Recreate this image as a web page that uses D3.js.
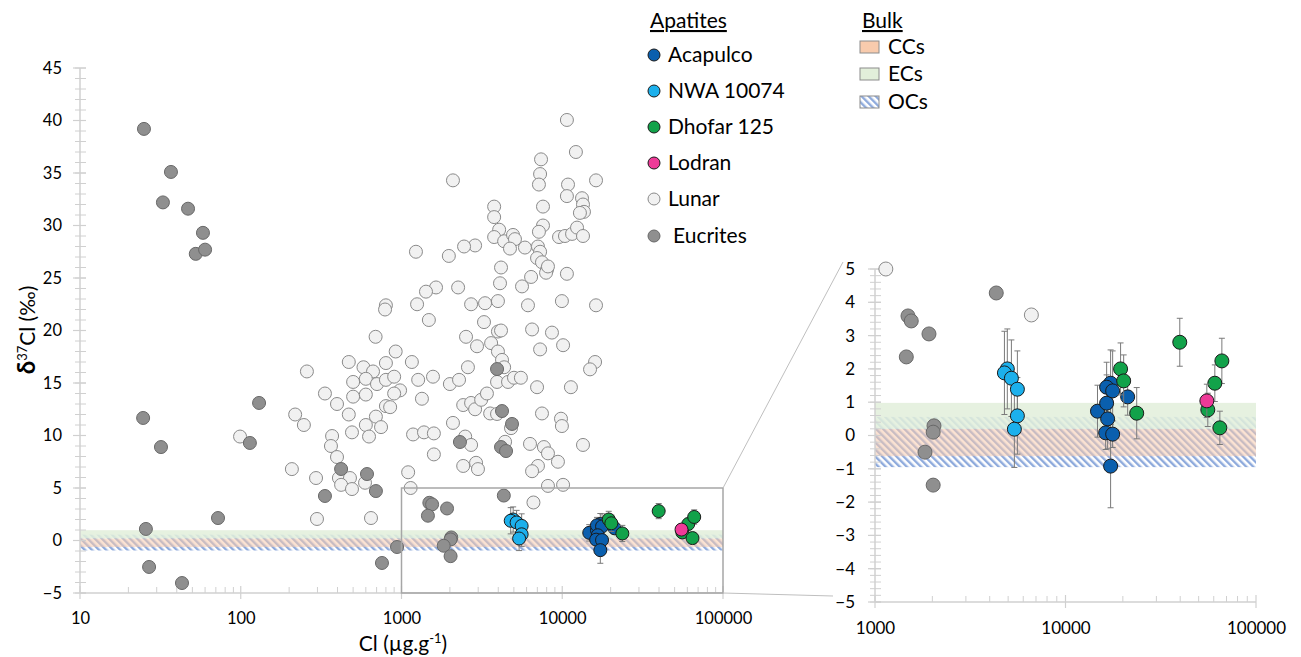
<!DOCTYPE html>
<html>
<head>
  <meta charset="UTF-8">
  <title>d37Cl vs Cl</title>
  <script src="https://cdn.jsdelivr.net/npm/d3@7/dist/d3.min.js"></script>
  <style>
    body { margin:0; background:#fff; }
    text { font-family: Lato, "Open Sans", sans-serif; fill:#000; }
  </style>
</head>
<body>
<svg id="chart" width="1301" height="657"></svg>
<script>
// ---- data: [Cl (ug/g), d37Cl (permil)] ----
const lunar = [
  [10690,40.05],[12160,37.0],[7380,36.3],[7280,34.9],[7160,33.9],[2090,34.3],[10860,33.9],[10690,32.8],
  [16220,34.3],[13270,32.6],[13460,32.0],[13650,31.3],[12880,31.2],[3770,31.8],[3770,30.8],[7590,31.8],
  [7590,30.0],[7160,29.4],[4050,29.6],[3770,28.9],[4350,28.5],[4940,29.1],[5080,28.7],[4730,27.8],
  [5860,27.9],[7060,28.0],[7280,27.5],[6970,26.9],[7480,26.5],[9550,28.9],[10400,29.0],[11510,29.2],
  [12360,29.8],[13460,29.0],[2870,28.1],[2450,28.0],[1230,27.5],[1970,27.1],[4160,26.0],[8040,25.8],
  [7930,25.5],[8150,26.1],[10690,25.4],[6400,25.1],[5620,24.2],[4100,24.5],[1640,24.1],[1420,23.7],
  [2250,24.1],[1250,22.5],[2710,22.5],[3310,22.6],[3980,22.8],[6120,22.4],[9950,22.8],[16220,22.4],
  [800,22.4],[790,22.0],[690,19.4],[920,18.0],[1160,17.0],[470,17.0],[580,16.5],[665,16.1],
  [800,16.9],[258,16.1],[500,15.1],[600,15.4],[704,14.9],[800,15.3],[900,15.6],[980,14.3],
  [900,14.0],[334,14.0],[397,13.0],[500,13.7],[600,13.9],[800,12.8],[850,12.7],[470,12.0],
  [693,11.8],[600,11.0],[746,10.8],[492,10.3],[628,9.9],[218,12.0],[247,11.0],[370,9.95],
  [364,9.0],[397,7.95],[99,9.9],[208,6.8],[294,5.95],[408,5.95],[478,5.95],[421,5.3],
  [492,4.9],[593,5.5],[298,2.05],[646,2.14],[1270,15.3],[1340,13.5],[1180,10.1],[1100,6.5],
  [1140,5.0],[1480,21.0],[3260,20.8],[2520,19.4],[2950,18.5],[3610,18.8],[3980,19.9],[4160,20.0],
  [6490,20.1],[8630,19.8],[10120,18.6],[7280,18.2],[3980,18.0],[4220,17.2],[4350,16.5],[2590,16.5],
  [16000,17.0],[14890,16.3],[1570,15.6],[2000,14.9],[2280,15.3],[3930,15.1],[4600,15.1],[5010,15.5],
  [5530,15.5],[6970,14.6],[11320,14.6],[2420,12.9],[2710,13.1],[2870,12.5],[3130,13.4],[3400,14.0],
  [3560,12.1],[3930,12.05],[7480,12.1],[9820,11.6],[9950,10.9],[2090,11.2],[1380,10.3],[1590,10.2],
  [2490,9.9],[2710,9.1],[4410,9.4],[4800,10.7],[6300,9.2],[7690,8.9],[8150,8.3],[9400,7.5],
  [13460,9.1],[1590,8.2],[2420,7.1],[2910,7.4],[2990,6.8],[7060,7.1],[6490,6.6],[8150,5.2],
  [10120,5.3],[6620,3.62]
];
const eucrites = [
  [25,39.2],[36.8,35.1],[32.8,32.2],[47,31.6],[58.2,29.3],[52.5,27.3],[60,27.7],
  [24.7,11.67],[31.9,8.9],[25.7,1.1],[26.9,-2.52],[43.1,-4.05],[72.2,2.14],[130,13.1],[114,9.29],
  [334,4.24],[421,6.81],[610,6.33],[693,4.71],[938,-0.62],[756,-2.14],
  [3930,16.33],[4220,12.33],[4870,11.1],[2310,9.38],[4160,8.9],[4470,8.52],[4330,4.28],
  [1490,3.59],[1550,3.44],[1920,3.05],[1460,2.36],[2040,0.29],[2020,0.10],[1830,-0.5],[2020,-1.49]
];
// apatites: [Cl, d37Cl, error]
const nwa10074 = [[4950,2.0,1.2],[4780,1.88,1.25],[5200,1.72,1.15],[5590,1.39,1.15],[5590,0.59,1.15],[5390,0.19,1.15]];
const acapulco = [[14720,0.73,0.78],[16440,0.97,0.85],[17250,1.57,1.0],[16440,1.45,0.75],[17680,1.34,1.2],
  [21200,1.16,0.55],[16640,0.5,0.9],[16250,0.08,0.5],[17680,0.04,0.4],[17250,-0.92,1.25]];
const dhofar125 = [[19460,2.0,0.78],[20200,1.64,0.78],[23650,0.67,0.77],[39800,2.8,0.72],
  [60800,1.57,0.55],[66200,2.24,0.68],[55850,0.77,0.5],[64600,0.23,0.5]];
const lodran = [[55200,1.04,0.5]];

// bulk ranges [low, high]
const bandOCs = [-0.95, 0.56];
const bandCCs = [-0.62, 0.2];
const bandECs = [0.2, 0.98];

const yTicksMain = [45,40,35,30,25,20,15,10,5,0,-5];
const xTicksMain = [10,100,1000,10000,100000];
const yTicksInset = [5,4,3,2,1,0,-1,-2,-3,-4,-5];
const xTicksInset = [1000,10000,100000];

const series = [
  {name:"Acapulco", data:acapulco, fill:"#0a5fae", stroke:"#1a1a1a"},
  {name:"NWA 10074", data:nwa10074, fill:"#1cb0ec", stroke:"#1a1a1a"},
  {name:"Dhofar 125", data:dhofar125, fill:"#12a24a", stroke:"#1a1a1a"},
  {name:"Lodran", data:lodran, fill:"#ee3a98", stroke:"#1a1a1a"},
  {name:"Lunar", data:lunar, fill:"#f1f1f1", stroke:"#8a8a8a"},
  {name:"Eucrites", data:eucrites, fill:"#8f8f8f", stroke:"#686868"}
];

const svg = d3.select("#chart");
const axisCol = "#d0d0d0";

// hatch pattern for OCs
const defs = svg.append("defs");
defs.append("pattern").attr("id","hatch").attr("patternUnits","userSpaceOnUse")
  .attr("width",5).attr("height",5).attr("patternTransform","rotate(-45)")
  .append("rect").attr("x",0).attr("y",0).attr("width",2.4).attr("height",5).attr("fill","#8eaadc");

function drawPanel(g, x, y, opt){
  const [x0,x1] = x.range(), [yb,yt] = y.range();
  // bands
  g.append("rect").attr("x",x0).attr("width",x1-x0)
    .attr("y",y(bandOCs[1])).attr("height",y(bandOCs[0])-y(bandOCs[1])).attr("fill","url(#hatch)");
  g.append("rect").attr("x",x0).attr("width",x1-x0)
    .attr("y",y(bandCCs[1])).attr("height",y(bandCCs[0])-y(bandCCs[1])).attr("fill","#f8cbad").attr("opacity",0.55);
  g.append("rect").attr("x",x0).attr("width",x1-x0)
    .attr("y",y(bandECs[1])).attr("height",y(bandECs[0])-y(bandECs[1])).attr("fill","#e2efda").attr("opacity",0.85);

  // axis lines
  g.append("line").attr("x1",x0).attr("x2",x0).attr("y1",yt).attr("y2",yb).attr("stroke",axisCol).attr("stroke-width",1.5);
  g.append("line").attr("x1",x0).attr("x2",x1).attr("y1",yb).attr("y2",yb).attr("stroke",axisCol).attr("stroke-width",1.5);

  // y ticks
  const yd = y.domain();
  const yMinor = d3.range(yd[0], yd[1]+1e-9, opt.yMinorStep);
  g.selectAll(null).data(yMinor).join("line")
    .attr("x1",x0-5).attr("x2",x0+6).attr("y1",d=>y(d)).attr("y2",d=>y(d))
    .attr("stroke",axisCol).attr("stroke-width",1);
  g.selectAll(null).data(opt.yTicks).join("line")
    .attr("x1",x0-7).attr("x2",x0+6).attr("y1",d=>y(d)).attr("y2",d=>y(d))
    .attr("stroke",axisCol).attr("stroke-width",1.2);

  // x ticks
  const xd = x.domain();
  const xMinor = [];
  for (let dec = xd[0]; dec < xd[1]; dec *= 10) for (let k=2;k<10;k++) xMinor.push(dec*k);
  g.selectAll(null).data(xMinor).join("line")
    .attr("x1",d=>x(d)).attr("x2",d=>x(d)).attr("y1",yb-6).attr("y2",yb)
    .attr("stroke",axisCol).attr("stroke-width",1);
  g.selectAll(null).data(opt.xTicks).join("line")
    .attr("x1",d=>x(d)).attr("x2",d=>x(d)).attr("y1",yb-7).attr("y2",yb+6)
    .attr("stroke",axisCol).attr("stroke-width",1.2);

  // tick labels through d3 axes
  const ya = g.append("g").attr("transform",`translate(${x0},0)`)
    .call(d3.axisLeft(y).tickValues(opt.yTicks).tickSize(0).tickPadding(opt.yPad).tickFormat(d3.format("d")));
  const xa = g.append("g").attr("transform",`translate(0,${yb})`)
    .call(d3.axisBottom(x).tickValues(opt.xTicks).tickSize(0).tickPadding(opt.xPad).tickFormat(d3.format("d")));
  [ya,xa].forEach(a => {
    a.select(".domain").remove();
    a.selectAll("text").attr("font-size",opt.fontSize).attr("font-family","Lato, sans-serif").attr("fill","#000");
  });

  // markers
  const inDom = d => d[0] >= xd[0] && d[0] <= xd[1] && d[1] >= yd[0] && d[1] <= yd[1] + 0.05;
  const order = ["Lunar","Eucrites","Acapulco","NWA 10074","Dhofar 125","Lodran"];
  order.forEach(nm => {
    const s = series.find(t => t.name === nm);
    const pts = s.data.filter(inDom);
    if (pts.length && pts[0].length > 2) {
      const eb = g.append("g").attr("stroke","#7a7a7a").attr("stroke-width",1);
      pts.forEach(d => {
        const cx = x(d[0]), ya1 = y(d[1]+d[2]), ya0 = y(d[1]-d[2]);
        eb.append("line").attr("x1",cx).attr("x2",cx).attr("y1",ya1).attr("y2",ya0);
        eb.append("line").attr("x1",cx-opt.cap).attr("x2",cx+opt.cap).attr("y1",ya1).attr("y2",ya1);
        eb.append("line").attr("x1",cx-opt.cap).attr("x2",cx+opt.cap).attr("y1",ya0).attr("y2",ya0);
      });
    }
    g.selectAll(null).data(pts).join("circle")
      .attr("cx",d=>x(d[0])).attr("cy",d=>y(d[1])).attr("r",opt.r)
      .attr("fill",s.fill).attr("stroke",s.stroke).attr("stroke-width",1);
  });
}

// main panel
const x = d3.scaleLog().domain([10,100000]).range([80,723]);
const y = d3.scaleLinear().domain([-5,45]).range([593,68]);
// inset panel
const xi = d3.scaleLog().domain([1000,100000]).range([875,1256]);
const yi = d3.scaleLinear().domain([-5,5]).range([602,269]);

const gMain = svg.append("g");
drawPanel(gMain, x, y, {yTicks:yTicksMain, xTicks:xTicksMain, yMinorStep:1, yPad:18, xPad:19, fontSize:16.5, r:6.5, cap:3});

// zoom box and connectors
svg.append("rect").attr("x",x(1000)).attr("y",y(5)).attr("width",x(100000)-x(1000)).attr("height",y(-5)-y(5))
  .attr("fill","none").attr("stroke","#a6a6a6").attr("stroke-width",1.5);
svg.append("line").attr("x1",x(100000)).attr("y1",y(5)).attr("x2",xi(1000)-32).attr("y2",yi(5)-7)
  .attr("stroke","#bfbfbf").attr("stroke-width",1);
svg.append("line").attr("x1",x(100000)).attr("y1",y(-5)).attr("x2",xi(1000)-42).attr("y2",yi(-5)-6)
  .attr("stroke","#bfbfbf").attr("stroke-width",1);

const gInset = svg.append("g");
drawPanel(gInset, xi, yi, {yTicks:yTicksInset, xTicks:xTicksInset, yMinorStep:0.2, yPad:20, xPad:20, fontSize:17, r:7, cap:3});

// axis titles
const yl = svg.append("text").attr("transform","translate(35,330) rotate(-90)")
  .attr("text-anchor","middle").attr("font-size",21);
yl.append("tspan").attr("font-weight","bold").attr("font-size",24).text("δ");
yl.append("tspan").attr("font-size",13).attr("baseline-shift","super").text("37");
yl.append("tspan").text("Cl (‰)");

const xl = svg.append("text").attr("x",403).attr("y",651).attr("text-anchor","middle").attr("font-size",21);
xl.append("tspan").text("Cl (µg.g");
xl.append("tspan").attr("font-size",13).attr("baseline-shift","super").text("-1");
xl.append("tspan").text(")");

// legend: apatites
const lg = svg.append("g");
lg.append("text").attr("x",650).attr("y",28).attr("font-size",21).style("text-decoration","underline").text("Apatites");
const legRows = [55,91,127,163,199,236];
series.forEach((s,i) => {
  lg.append("circle").attr("cx",654).attr("cy",legRows[i]).attr("r",6)
    .attr("fill",s.fill).attr("stroke",s.stroke).attr("stroke-width",1);
  lg.append("text").attr("x",s.name==="Eucrites"?673:668).attr("y",legRows[i]+7).attr("font-size",21).text(s.name);
});

// legend: bulk
lg.append("text").attr("x",862).attr("y",28).attr("font-size",21).style("text-decoration","underline").text("Bulk");
const bulk = [{name:"CCs", fill:"#f8cbad"},{name:"ECs", fill:"#e2efda"},{name:"OCs", fill:"url(#hatch)"}];
const bulkRows = [47,74,102];
bulk.forEach((b,i) => {
  lg.append("rect").attr("x",860).attr("y",bulkRows[i]-6).attr("width",19).attr("height",12)
    .attr("fill",b.fill).attr("stroke","#8c8c8c").attr("stroke-width",1);
  lg.append("text").attr("x",888).attr("y",bulkRows[i]+7).attr("font-size",21).text(b.name);
});
</script>
</body>
</html>
